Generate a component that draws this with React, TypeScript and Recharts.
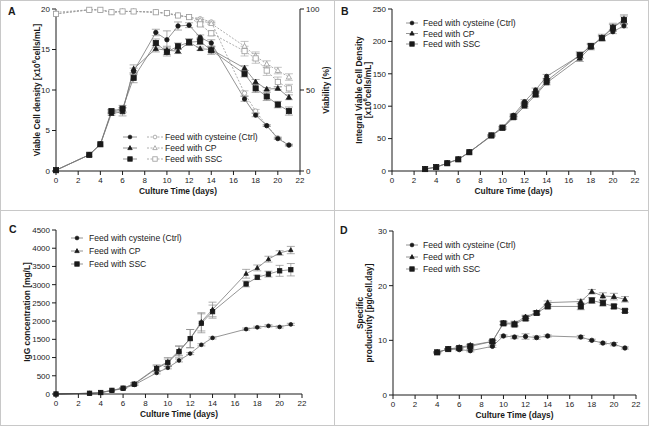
import React from "react";
import { LineChart, Line, XAxis, YAxis, ErrorBar } from "recharts";

// ---- data ----
const daysA = [0, 3, 4, 5, 6, 7, 9, 10, 11, 12, 13, 14, 17, 18, 19, 20, 21];
const vcdCtrl = [0.1, 2.0, 3.3, 7.3, 7.5, 12.3, 17.1, 16.2, 17.9, 18.0, 16.5, 15.8, 8.9, 6.9, 5.6, 4.0, 3.2];
const vcdCP = [0.1, 2.0, 3.3, 7.1, 7.3, 12.6, 15.1, 14.9, 14.8, 15.9, 15.1, 15.0, 12.7, 11.0, 10.1, 10.2, 9.1];
const vcdSSC = [0.1, 2.0, 3.3, 7.4, 7.7, 11.5, 15.8, 14.7, 15.4, 15.9, 16.0, 14.9, 12.0, 10.2, 9.2, 8.2, 7.4];
const vcdCtrlErr = [0, 0, 0, 0.2, 0.3, 0.4, 0.4, 1.1, 0.5, 0.3, 0.3, 0.4, 0.3, 0.2, 0.1, 0.1, 0.1];
const vcdCPErr = [0, 0, 0, 0.2, 0.5, 0.5, 0.4, 0.5, 0.3, 0.4, 0.2, 0.3, 0.3, 0.3, 0.2, 0.2, 0.3];
const vcdSSCErr = [0, 0, 0, 0.2, 0.4, 0.6, 0.5, 0.5, 0.4, 0.4, 0.4, 0.5, 0.4, 0.5, 0.5, 0.4, 0.5];
const viabCtrl = [97, 99.5, 99.5, 98, 98.5, 98.5, 98, 97, 96, 95, 94, 92, 48, 37, 28, 20.5, 16];
const viabCP = [98, 99.5, 99.5, 98, 98.5, 98.5, 98, 97.5, 96, 95, 93, 91, 77, 71, 66, 62, 58];
const viabSSC = [97, 99.5, 99.5, 98, 98.5, 98.5, 98, 97.5, 96, 95, 90.5, 85, 74, 69.5, 62, 55, 51];
const viabCtrlErr = [0, 0, 0, 0, 0, 0, 0, 0, 0, 0, 0.5, 0.5, 1.5, 1, 0.5, 0.5, 0.5];
const viabCPErr = [0, 0, 0, 0, 0, 0, 0, 0, 0, 0, 0.5, 0.5, 3, 2.5, 2, 2, 2];
const viabSSCErr = [0, 0, 0, 0, 0, 0, 0, 0, 0, 0, 1, 1.5, 3, 3, 3, 3, 2.5];

const daysB = [3, 4, 5, 6, 7, 9, 10, 11, 12, 13, 14, 17, 18, 19, 20, 21];
const ivcdCtrl = [3, 6, 12, 18, 29, 55, 67, 86, 107, 125, 146, 178, 193, 205, 215, 224];
const ivcdCP = [3, 6, 12, 18, 29, 54, 66, 82, 100, 117, 136, 174, 191, 206, 222, 234];
const ivcdSSC = [3, 6, 12, 18, 29, 55, 67, 84, 103, 119, 139, 179, 193, 205, 221, 233];
const ivcdCtrlErr = [0, 0, 0, 0, 0, 1, 1, 2, 3, 3, 3, 4, 3, 3, 3, 3];
const ivcdCPErr = [0, 0, 0, 0, 0, 1, 2, 2, 3, 3, 3, 5, 4, 5, 6, 7];
const ivcdSSCErr = [0, 0, 0, 0, 0, 1, 2, 2, 3, 3, 3, 5, 4, 4, 5, 6];

const igCtrl = [0, 20, 40, 90, 150, 250, 580, 720, 920, 1110, 1350, 1540, 1780, 1830, 1870, 1840, 1910];
const igCP = [0, 20, 40, 100, 160, 280, 720, 880, 1190, 1520, 1980, 2320, 3300, 3460, 3700, 3870, 3950];
const igSSC = [0, 20, 40, 100, 160, 270, 700, 860, 1160, 1520, 1940, 2260, 3020, 3200, 3290, 3380, 3410];
const igCtrlErr = [0, 0, 0, 0, 0, 20, 30, 30, 40, 30, 30, 30, 30, 30, 30, 30, 30];
const igCPErr = [0, 0, 0, 0, 10, 30, 80, 120, 130, 250, 250, 200, 120, 80, 80, 60, 100];
const igSSCErr = [0, 0, 0, 0, 10, 30, 70, 100, 150, 250, 260, 180, 80, 60, 80, 150, 170];

const daysD = [4, 5, 6, 7, 9, 10, 11, 12, 13, 14, 17, 18, 19, 20, 21];
const qpCtrl = [7.8, 8.4, 8.3, 8.1, 8.9, 10.8, 10.6, 10.7, 10.5, 10.8, 10.6, 10.0, 9.5, 9.3, 8.6];
const qpCP = [7.8, 8.4, 8.7, 9.1, 9.8, 13.2, 13.1, 14.3, 15.1, 16.9, 17.1, 18.9, 18.1, 18.0, 17.5];
const qpSSC = [7.8, 8.4, 8.6, 8.9, 9.8, 13.1, 12.9, 14.0, 15.0, 16.2, 16.2, 17.3, 16.8, 16.2, 15.4];
const qpCtrlErr = [0.1, 0.1, 0.2, 0.2, 0.2, 0.2, 0.3, 0.5, 0.3, 0.2, 0.3, 0.2, 0.2, 0.3, 0.2];
const qpCPErr = [0.1, 0.1, 0.2, 0.2, 0.2, 0.3, 0.4, 0.3, 0.3, 0.3, 0.4, 0.4, 0.6, 0.6, 0.5];
const qpSSCErr = [0.1, 0.1, 0.2, 0.3, 0.2, 0.3, 0.4, 0.4, 0.3, 0.3, 0.6, 0.5, 0.5, 0.4, 0.3];

const dayTicks = [0, 2, 4, 6, 8, 10, 12, 14, 16, 18, 20, 22];
const legendNames = ["Feed with cysteine (Ctrl)", "Feed with CP", "Feed with SSC"];

const rowsA = daysA.map((d, i) => ({
  day: d,
  ctrl: vcdCtrl[i], cp: vcdCP[i], ssc: vcdSSC[i],
  ctrlE: vcdCtrlErr[i], cpE: vcdCPErr[i], sscE: vcdSSCErr[i],
  vCtrl: viabCtrl[i], vCP: viabCP[i], vSSC: viabSSC[i],
  vCtrlE: viabCtrlErr[i], vCPE: viabCPErr[i], vSSCE: viabSSCErr[i],
}));
const rowsB = daysB.map((d, i) => ({
  day: d, ctrl: ivcdCtrl[i], cp: ivcdCP[i], ssc: ivcdSSC[i],
  ctrlE: ivcdCtrlErr[i], cpE: ivcdCPErr[i], sscE: ivcdSSCErr[i],
}));
const rowsC = daysA.map((d, i) => ({
  day: d, ctrl: igCtrl[i], cp: igCP[i], ssc: igSSC[i],
  ctrlE: igCtrlErr[i], cpE: igCPErr[i], sscE: igSSCErr[i],
}));
const rowsD = daysD.map((d, i) => ({
  day: d, ctrl: qpCtrl[i], cp: qpCP[i], ssc: qpSSC[i],
  ctrlE: qpCtrlErr[i], cpE: qpCPErr[i], sscE: qpSSCErr[i],
}));

const FONT = "'Liberation Sans', Arial, sans-serif";
const INK = "#1a1a1a";
const LINE = "#7a7a7a";
const OPEN = "#9a9a9a";
const tick = { fontSize: 8, fill: INK, fontFamily: FONT };

type Shape = "circle" | "triangle" | "square";
const shapes: Shape[] = ["circle", "triangle", "square"];

function Marker({ shape, cx, cy, open, s = 1 }: { shape: Shape; cx: number; cy: number; open?: boolean; s?: number }) {
  const fill = open ? "#fff" : INK;
  const stroke = open ? OPEN : INK;
  if (shape === "circle")
    return <circle cx={cx} cy={cy} r={2.2 * s} fill={fill} stroke={stroke} strokeWidth={0.8} />;
  if (shape === "triangle")
    return (
      <path
        d={`M${cx},${cy - 2.8 * s}L${cx + 2.6 * s},${cy + 1.9 * s}L${cx - 2.6 * s},${cy + 1.9 * s}Z`}
        fill={fill}
        stroke={stroke}
        strokeWidth={0.8}
      />
    );
  return <rect x={cx - 2.6 * s} y={cy - 2.6 * s} width={5.2 * s} height={5.2 * s} fill={fill} stroke={stroke} strokeWidth={0.8} />;
}

const dot = (shape: Shape, open?: boolean, s?: number) => (p: any) => {
  if (p.cx == null || p.cy == null) return <g key={p.key} />;
  return (
    <g key={p.key}>
      <Marker shape={shape} cx={p.cx} cy={p.cy} open={open} s={s} />
    </g>
  );
};

function LegendBox({ left, top, withOpen, lineLen = 12, textX, rowGap = 11 }: {
  left: number; top: number; withOpen?: boolean; lineLen?: number; textX: number; rowGap?: number;
}) {
  return (
    <svg width={200} height={44} style={{ position: "absolute", left, top, overflow: "visible" }}>
      {legendNames.map((n, i) => {
        const y = 5 + i * rowGap;
        return (
          <g key={n}>
            <line x1={0} x2={lineLen} y1={y} y2={y} stroke={LINE} strokeWidth={0.8} />
            <Marker shape={shapes[i]} cx={lineLen / 2} cy={y} s={0.85} />
            {withOpen && (
              <g>
                <line x1={24} x2={40} y1={y} y2={y} stroke={OPEN} strokeWidth={0.8} strokeDasharray="2 1.5" />
                <Marker shape={shapes[i]} cx={32} cy={y} open s={0.85} />
              </g>
            )}
            <text x={textX} y={y} dominantBaseline="central" fontSize={8.6} fill={INK} fontFamily={FONT}>
              {n}
            </text>
          </g>
        );
      })}
    </svg>
  );
}

const xTitle = (p: any) => {
  const vb = p.viewBox;
  return (
    <text x={vb.x + vb.width / 2} y={vb.y + 23} textAnchor="middle" fontSize={8.4} fontWeight="bold" fill={INK} fontFamily={FONT}>
      Culture Time (days)
    </text>
  );
};

const yTitle = (lines: React.ReactNode[], xs: number[]) => (p: any) => {
  const vb = p.viewBox;
  const cy = vb.y + vb.height / 2;
  return (
    <g>
      {lines.map((l, i) => (
        <text
          key={i}
          x={vb.x + xs[i]}
          y={cy}
          transform={`rotate(-90 ${vb.x + xs[i]} ${cy})`}
          textAnchor="middle"
          dominantBaseline="central"
          fontSize={8.4}
          fontWeight="bold"
          fill={INK}
          fontFamily={FONT}
        >
          {l}
        </text>
      ))}
    </g>
  );
};

const cellsUnit = (
  <>
    [x10<tspan dy={-3} fontSize={6}>6</tspan>
    <tspan dy={3}>cells/mL]</tspan>
  </>
);

const errProps = { width: 4, stroke: "#8a8a8a", strokeWidth: 0.7, direction: "y" as const };

function filledLines(yAxisId: string, s = 1) {
  return ["ctrl", "cp", "ssc"].map((k, i) => (
    <Line
      key={k}
      yAxisId={yAxisId}
      type="linear"
      dataKey={k}
      stroke={LINE}
      strokeWidth={0.8}
      dot={dot(shapes[i], false, s)}
      activeDot={false}
      isAnimationActive={false}
    >
      <ErrorBar dataKey={k + "E"} {...errProps} />
    </Line>
  ));
}

function PanelLetter({ x, y, t }: { x: number; y: number; t: string }) {
  return (
    <div style={{ position: "absolute", left: x, top: y, fontFamily: FONT, fontWeight: "bold", fontSize: 10.5, color: INK, lineHeight: 1 }}>
      {t}
    </div>
  );
}

export default function App() {
  return (
    <div style={{ position: "absolute", left: 0, top: 0, width: 649, height: 426, background: "#fff", overflow: "hidden" }}>
      {/* frame */}
      <div style={{ position: "absolute", left: 0, top: 0, width: 647, height: 424, border: "1px solid #c8c8c8" }} />
      <div style={{ position: "absolute", left: 334, top: 0, width: 1, height: 426, background: "#c8c8c8" }} />
      <div style={{ position: "absolute", left: 0, top: 210, width: 649, height: 1, background: "#c8c8c8" }} />

      {/* A */}
      <div style={{ position: "absolute", left: 0, top: 0 }}>
        <LineChart width={334} height={209} data={rowsA} margin={{ top: 9, right: 0, bottom: 0, left: 0 }}>
          <XAxis type="number" dataKey="day" domain={[0, 22]} ticks={dayTicks} tick={tick} tickSize={4} height={38} stroke={INK} interval={0}
            label={{ content: xTitle }} />
          <YAxis yAxisId="l" domain={[0, 20]} ticks={[0, 5, 10, 15, 20]} tick={tick} tickSize={4} width={56} stroke={INK} interval={0}
            label={{ content: yTitle([<>Viable Cell density {cellsUnit}</>], [37]) }} />
          <YAxis yAxisId="r" orientation="right" domain={[0, 100]} ticks={[0, 50, 100]} tick={tick} tickSize={4} width={34} stroke={INK} interval={0}
            label={{ content: yTitle(["Viability (%)"], [26]) }} />
          {["vCtrl", "vCP", "vSSC"].map((k, i) => (
            <Line key={k} yAxisId="r" type="linear" dataKey={k} stroke={OPEN} strokeWidth={0.8} strokeDasharray="2 1.5"
              dot={dot(shapes[i], true)} activeDot={false} isAnimationActive={false}>
              <ErrorBar dataKey={k + "E"} {...errProps} stroke="#aaa" />
            </Line>
          ))}
          {filledLines("l")}
        </LineChart>
      </div>
      <LegendBox left={123} top={132} withOpen lineLen={14} textX={42} rowGap={11} />
      <PanelLetter x={8} y={6} t="A" />

      {/* B */}
      <div style={{ position: "absolute", left: 334, top: 0 }}>
        <LineChart width={315} height={209} data={rowsB} margin={{ top: 9, right: 14, bottom: 0, left: 0 }}>
          <XAxis type="number" dataKey="day" domain={[0, 22]} ticks={dayTicks} tick={tick} tickSize={4} height={38} stroke={INK} interval={0}
            label={{ content: xTitle }} />
          <YAxis yAxisId="l" domain={[0, 250]} ticks={[0, 50, 100, 150, 200, 250]} tick={tick} tickSize={4} width={58} stroke={INK} interval={0}
            label={{ content: yTitle(["Integral Viable Cell Density", cellsUnit], [25, 34]) }} />
          {filledLines("l")}
        </LineChart>
      </div>
      <LegendBox left={406} top={18} textX={17} rowGap={10.5} />
      <PanelLetter x={341} y={6} t="B" />

      {/* C */}
      <div style={{ position: "absolute", left: 0, top: 209 }}>
        <LineChart width={334} height={217} data={rowsC} margin={{ top: 21, right: 32, bottom: 0, left: 0 }}>
          <XAxis type="number" dataKey="day" domain={[0, 22]} ticks={dayTicks} tick={tick} tickSize={4} height={32} stroke={INK} interval={0}
            label={{ content: xTitle }} />
          <YAxis yAxisId="l" domain={[0, 4500]} ticks={[0, 500, 1000, 1500, 2000, 2500, 3000, 3500, 4000, 4500]} tick={tick} tickSize={4} width={56} stroke={INK} interval={0}
            label={{ content: yTitle(["IgG concentration [mg/L]"], [27]) }} />
          {filledLines("l", 0.85)}
        </LineChart>
      </div>
      <LegendBox left={71} top={233} textX={18} rowGap={13} />
      <PanelLetter x={9} y={224} t="C" />

      {/* D */}
      <div style={{ position: "absolute", left: 334, top: 209 }}>
        <LineChart width={315} height={217} data={rowsD} margin={{ top: 22, right: 13, bottom: 0, left: 0 }}>
          <XAxis type="number" dataKey="day" domain={[0, 22]} ticks={dayTicks} tick={tick} tickSize={4} height={31} stroke={INK} interval={0}
            label={{ content: xTitle }} />
          <YAxis yAxisId="l" domain={[0, 30]} ticks={[0, 10, 20, 30]} tick={tick} tickSize={4} width={59} stroke={INK} interval={0}
            label={{ content: yTitle(["Specific", "productivity [pg/cell.day]"], [26, 35]) }} />
          {filledLines("l")}
        </LineChart>
      </div>
      <LegendBox left={406} top={240} textX={17} rowGap={12} />
      <PanelLetter x={340} y={225} t="D" />
    </div>
  );
}
